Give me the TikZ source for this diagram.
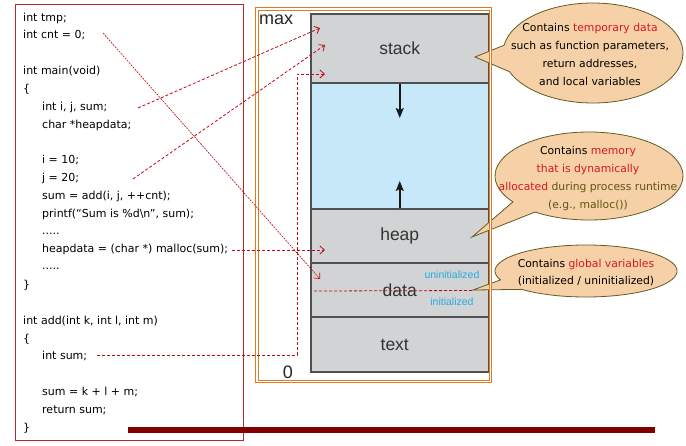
\documentclass[tikz,border=0pt]{standalone}
\usepackage{fontspec}
\setmainfont{DejaVu Sans}
\newfontfamily\arialf{Liberation Sans}
\usetikzlibrary{arrows.meta,calc}

\definecolor{codered}{RGB}{178,40,50}
\definecolor{linkred}{RGB}{190,10,20}
\definecolor{segfill}{RGB}{209,211,212}
\definecolor{segline}{RGB}{80,80,80}
\definecolor{freefill}{RGB}{198,232,248}
\definecolor{frameorange}{RGB}{226,122,32}
\definecolor{bubblefill}{RGB}{246,208,166}
\definecolor{bubbleline}{RGB}{100,90,35}
\definecolor{hotred}{RGB}{215,25,32}
\definecolor{olivetext}{RGB}{95,85,20}
\definecolor{lblblue}{RGB}{40,170,225}
\definecolor{barred}{RGB}{128,0,0}

\begin{document}
\begin{tikzpicture}[x=1pt,y=-1pt,
  codeline/.style={anchor=base west, inner sep=0pt, font=\fontsize{11}{12}\selectfont, text=black},
  seg/.style={draw=segline, line width=1.1pt, fill=segfill, minimum width=177.5pt, inner sep=0pt,
    font=\arialf\fontsize{17.5}{20}\selectfont, text=black!80},
  bubble/.style={draw=bubbleline, line width=0.8pt, fill=bubblefill},
  bubbletext/.style={align=center, inner sep=0pt, font=\fontsize{10.8}{17.7}\selectfont, text=black},
  link/.style={draw=linkred, line width=0.8pt, dash pattern=on 3pt off 2pt},
  linktip/.style={-{Straight Barb[length=4.5pt,width=8pt]}},
  growarrow/.style={draw=black!90, line width=1.6pt, -{Stealth[length=10pt,width=8pt,inset=2pt]}},
  axislabel/.style={inner sep=0pt, font=\arialf\fontsize{18}{20}\selectfont, text=black!85},
  sublabel/.style={inner sep=0pt, font=\arialf\fontsize{10.5}{12}\selectfont, text=lblblue}
]
\useasboundingbox (0,0) rectangle (686,445);
\fill[white] (0,0) rectangle (686,445);

% code box
\node[draw=codered, line width=0.9pt, minimum width=228pt, minimum height=436pt, inner sep=0pt, anchor=north west] (codebox) at (15,4) {};

% code lines
\node[codeline] (l0)  at (23,21)    {int tmp;};
\node[codeline] (l1)  at (23,38.8)  {int cnt = 0;};
\node[codeline] (l3)  at (23,74.5)  {int main(void)};
\node[codeline] (l4)  at (23,92.3)  {\{};
\node[codeline] (l5)  at (42,110.2) {int i, j, sum;};
\node[codeline] (l6)  at (42,128)   {char *heapdata;};
\node[codeline] (l8)  at (42,163.6) {i = 10;};
\node[codeline] (l9)  at (42,181.5) {j = 20;};
\node[codeline] (l10) at (42,199.3) {sum = add(i, j, ++cnt);};
\node[codeline] (l11) at (42,217.1) {printf(“Sum is \%d\textbackslash n”, sum);};
\node[codeline] (l12) at (42,234)   {.....};
\node[codeline] (l13) at (42,252.8) {heapdata = (char *) malloc(sum);};
\node[codeline] (l14) at (42,269.8) {.....};
\node[codeline] (l15) at (23,288.5) {\}};
\node[codeline] (l17) at (23,324.1) {int add(int k, int l, int m)};
\node[codeline] (l18) at (23,342)   {\{};
\node[codeline] (l19) at (42,359.8) {int sum;};
\node[codeline] (l21) at (42,395.4) {sum = k + l + m;};
\node[codeline] (l22) at (42,413.3) {return sum;};
\node[codeline] (l23) at (23,431.1) {\}};

% memory segments
\node[seg] (stack) at (399.75,48.5) [minimum height=69pt] {stack};
\node[seg, fill=freefill] (free) at (399.75,146) [minimum height=126pt] {};
\node[seg] (heap) at (399.75,236) [minimum height=54pt] {heap};
\node[seg] (data) at (399.75,290) [minimum height=54pt] {data};
\node[seg] (text) at (399.75,344.5) [minimum height=55pt] {text\kern10pt};

\coordinate (stackgrow) at (399.75,118);
\coordinate (heapgrow) at (399.75,181);
\draw[growarrow] (stack.south) -- (stackgrow);
\draw[growarrow] (heap.north) -- (heapgrow);

\node[sublabel] (uninit) at (452,275) {uninitialized};
\node[sublabel] (init) at (452,302) {initialized};

% callouts
\draw[bubble] (475,57) -- ($(593,53)+(189:90 and 50)$)
  arc[start angle=189, end angle=518, x radius=90, y radius=50] -- cycle;
\node[bubbletext] (b1) at (590,54.5) {Contains \textcolor{hotred}{temporary data}\\such as function parameters,\\return addresses,\\and local variables};

\draw[bubble] (472,237) -- ($(589,176)+(144:94 and 44)$)
  arc[start angle=144, end angle=485, x radius=94, y radius=44] -- cycle;
\node[bubbletext] (b2) at (588,178.5) {Contains \textcolor{hotred}{memory}\\\textcolor{hotred}{that is dynamically}\\\textcolor{hotred}{allocated} \textcolor{olivetext}{during process runtime}\\\textcolor{olivetext}{(e.g., malloc())}};

\draw[bubble] (473,290) -- ($(586,271)+(160:91 and 26)$)
  arc[start angle=160, end angle=495, x radius=91, y radius=26] -- cycle;
\node[bubbletext] (b3) at (586,272.5) {Contains \textcolor{hotred}{global variables}\\(initialized / uninitialized)};

% orange frame
\draw[frameorange, line width=0.9pt, double=white, double distance=1.3pt] (257,9) rectangle (490.8,381.2);
\node[axislabel, anchor=west] (maxl) at (259,19.5) {max};
\node[axislabel] (zerol) at (288,372) {0};

% connectors
\coordinate (s1) at (138,108);  \coordinate (e1) at (320,28);
\coordinate (s2) at (133,179);  \coordinate (e2) at (325,45);
\coordinate (s3) at (103,33);   \coordinate (e3) at (320,279);
\coordinate (s4) at (232,250);  \coordinate (e4) at (325,250);
\coordinate (s5) at (97,355);   \coordinate (k5) at (297,74);  \coordinate (e5) at (325,74);
\coordinate (d0) at (314,291);  \coordinate (d1) at (473,290.5);

\draw[link, linktip] (s1) -- (e1);
\draw[link, linktip] (s2) -- (e2);
\draw[link, linktip, line width=0.6pt, dash pattern=on 2pt off 1pt] (s3) -- (e3);
\draw[link, linktip] (s4) -- (e4);
\draw[link, linktip] (s5) -| (k5) -- (e5);
\draw[link] (d0) -- (d1);

% bottom bar
\fill[barred] (128,427) rectangle (655,433);
\end{tikzpicture}
\end{document}
